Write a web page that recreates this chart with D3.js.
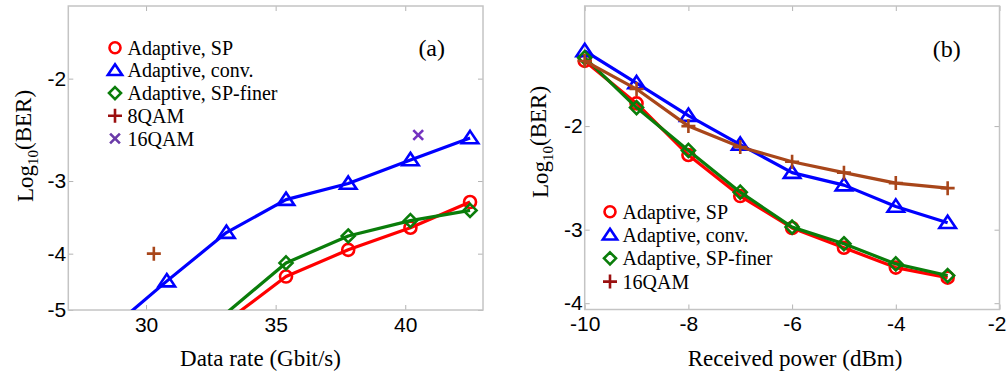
<!DOCTYPE html>
<html>
<head>
<meta charset="utf-8">
<script src="https://cdn.jsdelivr.net/npm/d3@7"></script>
<style>
  body { margin: 0; background: #fff; }
  svg { display: block; }
  .tick text { font-family: "Liberation Sans", Arial, sans-serif; font-size: 21px; fill: #000; }
  .tick line { stroke: #b4b4b4; stroke-width: 1; }
  .lbl { font-family: "Liberation Serif", "Times New Roman", serif; fill: #000; }
</style>
</head>
<body>
<div id="chart"></div>
<script>
// ---- panel (a): BER vs data rate ----
const rateConv = [28.4, 30.8, 33.1, 35.4, 37.8, 40.2, 42.5];
const berConvA = [-5.5, -4.46, -3.68, -3.23, -3.03, -2.76, -2.53];
const rateSP = [30.8, 35.4, 37.8, 40.2, 42.5];
const berSPA = [-6.25, -4.38, -3.94, -3.61, -3.26];
const berFinerA = [-6.17, -4.15, -3.73, -3.51, -3.37];
const rate8QAM = [30.3];
const ber8QAM = [-4.0];
const rate16QAM = [40.5];
const ber16QAM = [-2.5];
const xTicksA = [30, 35, 40];
const yTicksA = [-2, -3, -4, -5];

// ---- panel (b): BER vs received power ----
const powerDbm = [-10, -9, -8, -7, -6, -5, -4, -3];
const berSPB = [-1.55, -1.83, -2.24, -2.63, -2.98, -3.22, -3.48, -3.62];
const berConvB = [-1.49, -1.69, -1.92, -2.15, -2.40, -2.52, -2.74, -2.92];
const berFinerB = [-1.53, -1.86, -2.20, -2.59, -2.97, -3.17, -3.43, -3.59];
const ber16QAMB = [-1.55, -1.73, -2.00, -2.17, -2.30, -2.40, -2.50, -2.55];
const xTicksB = [-10, -8, -6, -4, -2];
const yTicksB = [-2, -3, -4];

const legendA = ['Adaptive, SP', 'Adaptive, conv.', 'Adaptive, SP-finer', '8QAM', '16QAM'];
const legendB = ['Adaptive, SP', 'Adaptive, conv.', 'Adaptive, SP-finer', '16QAM'];

const RED = '#ff0000', BLUE = '#0000ff', GREEN = '#0a7d0a', BROWN = '#a8461a', DARKRED = '#9b1010', PURPLE = '#7432c0';

const svg = d3.select('#chart').append('svg')
  .attr('width', 1008)
  .attr('height', 372);

// marker path centred on 0,0
function marker(type, s) {
  const h = s / 2;
  if (type === 'circle') return `M${h},0A${h},${h} 0 1,1 ${-h},0A${h},${h} 0 1,1 ${h},0Z`;
  if (type === 'triangle') return `M0,${-h * 0.95}L${h * 1.1},${h * 0.7}L${-h * 1.1},${h * 0.7}Z`;
  if (type === 'diamond') return `M0,${-h}L${h},0L0,${h}L${-h},0Z`;
  if (type === 'plus') return `M${-h},0L${h},0M0,${-h}L0,${h}`;
  if (type === 'cross') return `M${-h * 0.7},${-h * 0.7}L${h * 0.7},${h * 0.7}M${h * 0.7},${-h * 0.7}L${-h * 0.7},${h * 0.7}`;
}

function panel(opt) {
  const x = d3.scaleLinear().domain(opt.xDomain).range([opt.left, opt.right]);
  // the BER axis is logarithmic in -log10(BER)
  const yLog = d3.scaleLog().domain(opt.yDomain).range([opt.top, opt.bottom]);
  const y = v => yLog(-v);
  const g = svg.append('g');

  // ticks on all four sides, pointing inward
  const h = opt.bottom - opt.top;
  g.append('g').attr('transform', `translate(0,${opt.bottom})`)
    .call(d3.axisBottom(x).tickValues(opt.xTicks).tickSize(-5).tickPadding(7).tickFormat(d => String(d)))
    .call(a => a.select('.domain').remove())
    .call(a => a.selectAll('text').filter(d => x(d) > 990).attr('dx', -3));
  g.append('g').attr('transform', `translate(0,${opt.top})`)
    .call(d3.axisTop(x).tickValues(opt.xTicks).tickSize(-5).tickFormat(''))
    .call(a => a.select('.domain').remove());
  g.append('g').attr('transform', `translate(${opt.left},0)`)
    .call(d3.axisLeft(yLog).tickValues(opt.yTicks.map(v => -v)).tickSize(-5).tickPadding(2).tickFormat(v => String(-v)))
    .call(a => a.select('.domain').remove());
  g.append('g').attr('transform', `translate(${opt.right},0)`)
    .call(d3.axisRight(yLog).tickValues(opt.yTicks.map(v => -v)).tickSize(-5).tickFormat(''))
    .call(a => a.select('.domain').remove());

  g.append('rect')
    .attr('x', opt.left).attr('y', opt.top)
    .attr('width', opt.right - opt.left).attr('height', h)
    .attr('fill', 'none').attr('stroke', '#c4c4c4').attr('stroke-width', 1.5);

  let plot = g.append('g');
  if (opt.clip) {
    svg.append('clipPath').attr('id', opt.clip).append('rect')
      .attr('x', opt.left).attr('y', opt.top - 10)
      .attr('width', opt.right - opt.left + 10).attr('height', h + 10);
    plot.attr('clip-path', `url(#${opt.clip})`);
  }

  const line = d3.line().x(d => x(d[0])).y(d => y(d[1]));
  opt.series.forEach(s => {
    const pts = s.xs.map((v, i) => [v, s.ys[i]]);
    if (s.line) {
      plot.append('path').datum(pts)
        .attr('d', line)
        .attr('fill', 'none').attr('stroke', s.color).attr('stroke-width', 3.2)
        .attr('stroke-linejoin', 'round');
    }
    plot.selectAll(null).data(pts).enter().append('path')
      .attr('transform', d => `translate(${x(d[0])},${y(d[1])})`)
      .attr('d', marker(s.shape, s.size))
      .attr('fill', 'none').attr('stroke', s.color).attr('stroke-width', 2.6);
  });

  // legend
  opt.legend.forEach((l, i) => {
    const ly = opt.legendY + i * opt.legendStep;
    g.append('path')
      .attr('transform', `translate(${opt.legendX},${ly})`)
      .attr('d', marker(l.shape, l.size))
      .attr('fill', 'none').attr('stroke', l.color).attr('stroke-width', 2.6);
    g.append('text').attr('class', 'lbl')
      .attr('x', opt.legendX + 12.5).attr('y', ly)
      .attr('dy', '0.35em')
      .attr('font-size', 20)
      .text(l.name);
  });

  g.append('text').attr('class', 'lbl')
    .attr('x', opt.tag[0]).attr('y', opt.tag[1]).attr('dy', '0.35em')
    .attr('text-anchor', 'middle').attr('font-size', 24)
    .text(opt.tag[2]);

  g.append('text').attr('class', 'lbl')
    .attr('x', opt.xLabelX).attr('y', 358).attr('dy', '0.35em')
    .attr('text-anchor', 'middle').attr('font-size', 23)
    .text(opt.xLabel);

  const yl = g.append('text').attr('class', 'lbl')
    .attr('transform', `translate(${opt.yLabelX},${opt.yLabelY}) rotate(-90)`)
    .attr('text-anchor', 'middle').attr('dy', '0.35em').attr('font-size', 23);
  yl.append('tspan').text('Log');
  yl.append('tspan').attr('font-size', 15).attr('dy', '0.3em').text('10');
  yl.append('tspan').attr('dy', '-0.3em').text('(BER)');
}

panel({
  left: 68.3, right: 483, top: 6, bottom: 310,
  xDomain: [27, 43], yDomain: [1.5, 5],
  xTicks: xTicksA, yTicks: yTicksA,
  clip: 'clipA',
  series: [
    { xs: rateSP, ys: berSPA, color: RED, shape: 'circle', size: 12, line: true },
    { xs: rateConv, ys: berConvA, color: BLUE, shape: 'triangle', size: 15, line: true },
    { xs: rateSP, ys: berFinerA, color: GREEN, shape: 'diamond', size: 13, line: true },
    { xs: rate8QAM, ys: ber8QAM, color: BROWN, shape: 'plus', size: 14, line: false },
    { xs: rate16QAM, ys: ber16QAM, color: PURPLE, shape: 'cross', size: 14, line: false }
  ],
  legend: [
    { name: legendA[0], color: RED, shape: 'circle', size: 11 },
    { name: legendA[1], color: BLUE, shape: 'triangle', size: 13 },
    { name: legendA[2], color: GREEN, shape: 'diamond', size: 12 },
    { name: legendA[3], color: DARKRED, shape: 'plus', size: 14 },
    { name: legendA[4], color: '#6a3aa8', shape: 'cross', size: 14 }
  ],
  legendX: 115, legendY: 47.7, legendStep: 22.7,
  tag: [431.7, 47.7, '(a)'],
  xLabel: 'Data rate (Gbit/s)', xLabelX: 260.5,
  yLabelX: 25, yLabelY: 146
});

panel({
  left: 584.7, right: 999.5, top: 6, bottom: 309.5,
  xDomain: [-10, -2], yDomain: [1.25, 4.1],
  xTicks: xTicksB, yTicks: yTicksB,
  clip: null,
  series: [
    { xs: powerDbm, ys: berSPB, color: RED, shape: 'circle', size: 12, line: true },
    { xs: powerDbm, ys: berConvB, color: BLUE, shape: 'triangle', size: 15, line: true },
    { xs: powerDbm, ys: berFinerB, color: GREEN, shape: 'diamond', size: 13, line: true },
    { xs: powerDbm, ys: ber16QAMB, color: BROWN, shape: 'plus', size: 14, line: true }
  ],
  legend: [
    { name: legendB[0], color: RED, shape: 'circle', size: 11 },
    { name: legendB[1], color: BLUE, shape: 'triangle', size: 13 },
    { name: legendB[2], color: GREEN, shape: 'diamond', size: 12 },
    { name: legendB[3], color: DARKRED, shape: 'plus', size: 14 }
  ],
  legendX: 610, legendY: 211.7, legendStep: 23.3,
  tag: [946.7, 49, '(b)'],
  xLabel: 'Received power (dBm)', xLabelX: 795,
  yLabelX: 540, yLabelY: 142
});
</script>
</body>
</html>
